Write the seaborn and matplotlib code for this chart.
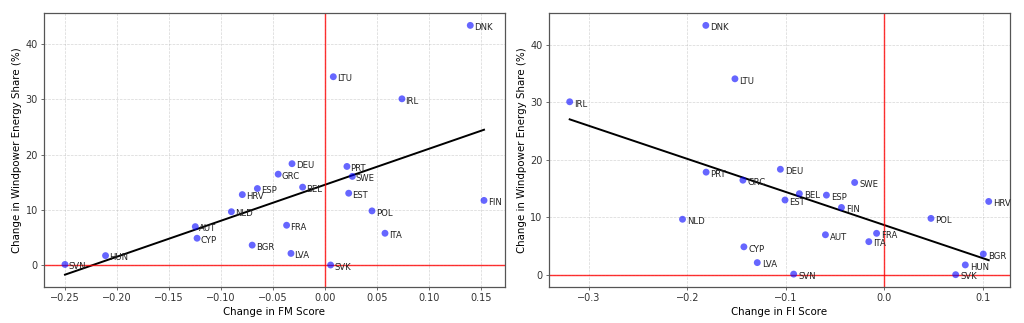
import matplotlib
matplotlib.use("Agg")
import matplotlib.pyplot as plt
import seaborn as sns
import pandas as pd

countries = ["DNK", "LTU", "IRL", "DEU", "PRT", "GRC", "SWE", "BEL", "ESP", "EST",
             "HRV", "FIN", "POL", "NLD", "FRA", "AUT", "ITA", "CYP", "BGR", "LVA",
             "HUN", "SVK", "SVN"]
wind_change = [43.4, 34.1, 30.1, 18.35, 17.85, 16.45, 16.05, 14.1, 13.85, 13.0,
               12.75, 11.7, 9.8, 9.65, 7.2, 6.95, 5.75, 4.85, 3.6, 2.1,
               1.7, 0.0, 0.1]
fm_change = [0.1397, 0.008, 0.074, -0.0317, 0.0211, -0.045, 0.0263, -0.0215, -0.065, 0.0228,
             -0.0795, 0.1529, 0.0452, -0.090, -0.0369, -0.1247, 0.0577, -0.123, -0.070, -0.0327,
             -0.211, 0.0054, -0.250]
fi_change = [-0.1813, -0.1517, -0.3197, -0.1055, -0.181, -0.1436, -0.030, -0.0862, -0.0587, -0.1008,
             0.1063, -0.0434, 0.0476, -0.205, -0.0077, -0.0597, -0.0156, -0.1426, 0.1008, -0.129,
             0.0825, 0.0727, -0.092]

df = pd.DataFrame({"country": countries, "wind": wind_change,
                   "FM": fm_change, "FI": fi_change})

fig, axes = plt.subplots(1, 2, figsize=(16, 323 / 64), dpi=64)
fig.subplots_adjust(left=0.043, right=0.986, bottom=0.111, top=0.960, wspace=0.095)

for ax, col, xlabel in [(axes[0], "FM", "Change in FM Score"),
                        (axes[1], "FI", "Change in FI Score")]:
    sns.scatterplot(data=df, x=col, y="wind", ax=ax, color="blue", alpha=0.6,
                    s=60, edgecolor="none", zorder=3)
    sns.regplot(data=df, x=col, y="wind", ax=ax, scatter=False, ci=None,
                color="black", line_kws={"linewidth": 2.2}, truncate=True)
    for _, r in df.iterrows():
        ax.text(r[col] + (0.0035 if col == "FM" else 0.0045), r["wind"] - 0.4,
                r["country"], fontsize=9.5, va="center", ha="left", color="#222222")
    ax.axhline(0, color="red", linewidth=1.6, alpha=0.8)
    ax.axvline(0, color="red", linewidth=1.6, alpha=0.8)
    ax.grid(True, linestyle="--", alpha=0.5)
    ax.set_xlabel(xlabel, fontsize=11.5)
    ax.set_ylabel("Change in Windpower Energy Share (%)", fontsize=11.5)
    ax.tick_params(labelsize=11, colors="#333333")
    for s in ax.spines.values():
        s.set_color("#555555")
        s.set_linewidth(1.4)
    ax.margins(0.05)

axes[0].set_xticks([-0.25, -0.20, -0.15, -0.10, -0.05, 0.00, 0.05, 0.10, 0.15])
axes[0].set_yticks([0, 10, 20, 30, 40])
axes[1].set_xticks([-0.3, -0.2, -0.1, 0.0, 0.1])
axes[1].set_yticks([0, 10, 20, 30, 40])

fig.savefig("out.png", dpi=64)
